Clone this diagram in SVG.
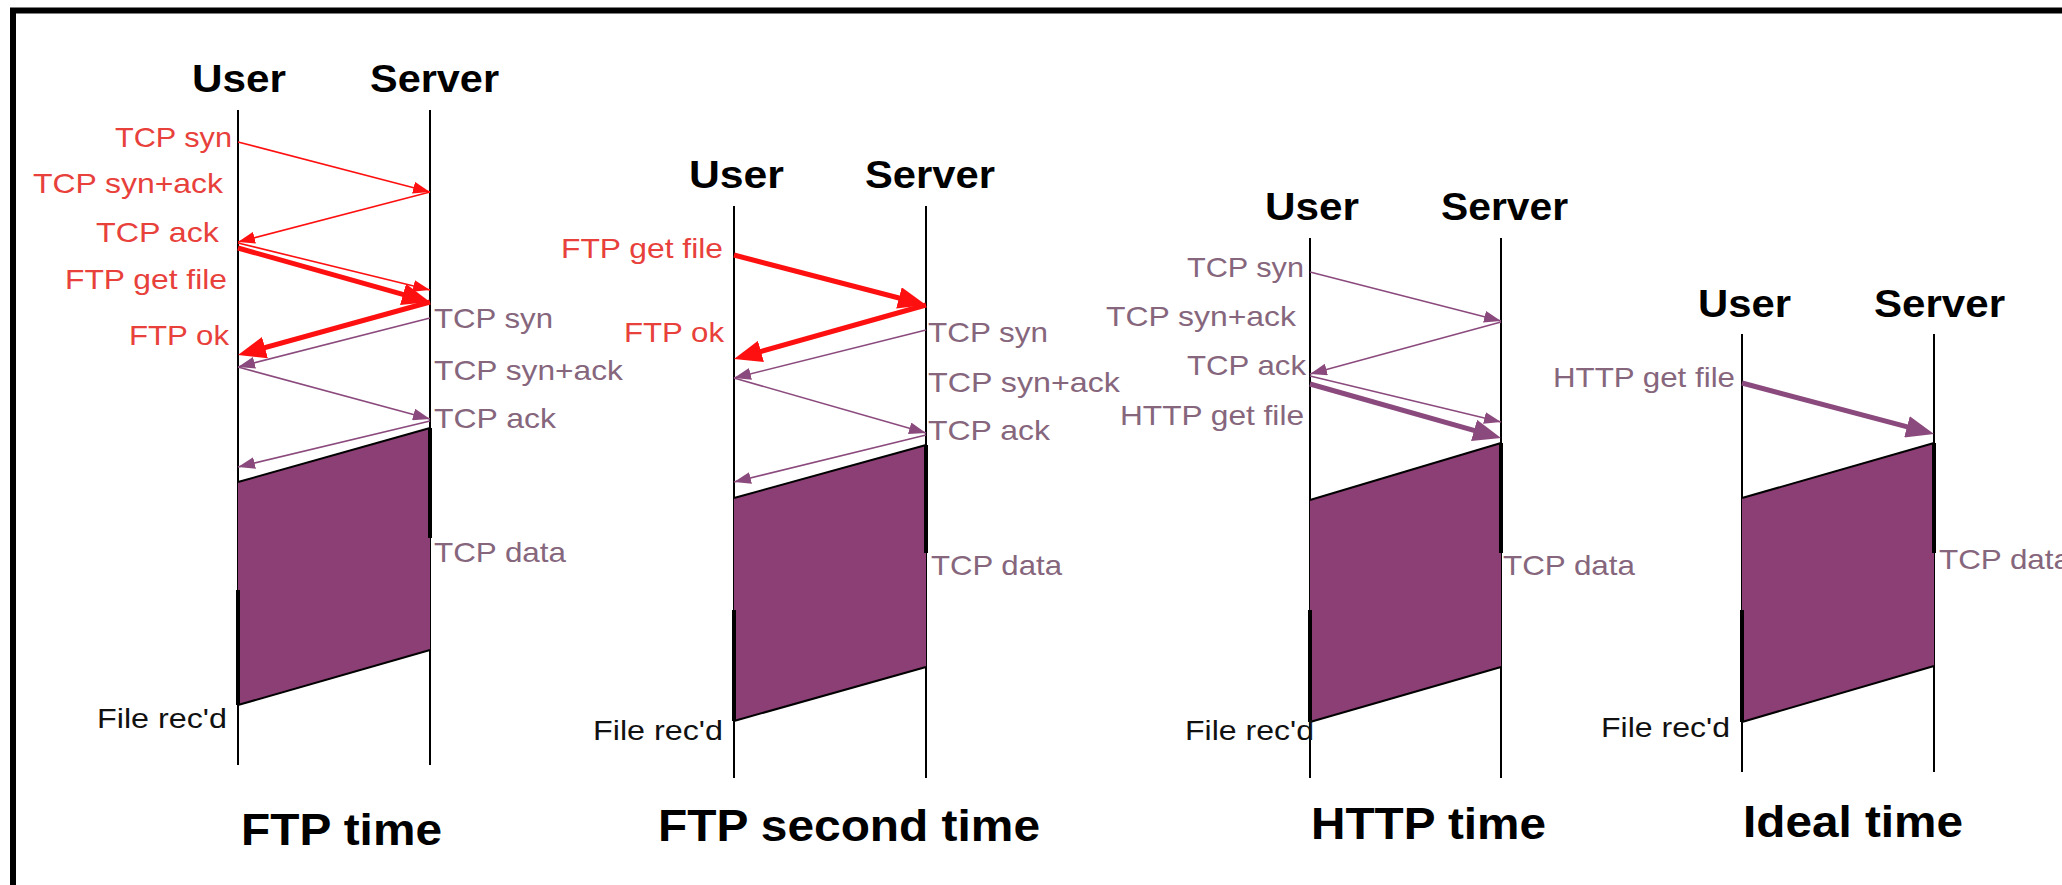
<svg xmlns="http://www.w3.org/2000/svg" width="2062" height="885" viewBox="0 0 2062 885">
  <style>
    text { font-family: "Liberation Sans", Arial, sans-serif; }
    .hdr { font-size: 39px; font-weight: bold; fill: #000; }
    .title { font-size: 44px; font-weight: bold; fill: #000; }
    .lbl { font-size: 28px; }
    .red { fill: #e8403a; }
    .pur { fill: #86667c; }
    .blk { fill: #111; }
    .life { stroke: #000; stroke-width: 2; fill: none; }
    .busy { stroke: #000; stroke-width: 4; fill: none; }
    .data { fill: #8b3f75; stroke: none; }
    .edge { stroke: #000; stroke-width: 2; fill: none; }
    .rthin { stroke: #ff1010; stroke-width: 1.6; fill: none; marker-end: url(#hRedThin); }
    .rthick { stroke: #ff1010; stroke-width: 5; fill: none; marker-end: url(#hRedThick); }
    .pthin { stroke: #8b4a7d; stroke-width: 1.6; fill: none; marker-end: url(#hPurThin); }
    .pthick { stroke: #8b4a7d; stroke-width: 5; fill: none; marker-end: url(#hPurThick); }
  </style>
  <defs>
    <marker id="hRedThin" viewBox="0 0 17 12" refX="17" refY="6" markerWidth="17" markerHeight="12" markerUnits="userSpaceOnUse" orient="auto">
      <path d="M0,0 L17,6 L0,12 z" fill="#ff1010"/>
    </marker>
    <marker id="hRedThick" viewBox="0 0 28 22" refX="20" refY="11" markerWidth="28" markerHeight="22" markerUnits="userSpaceOnUse" orient="auto">
      <path d="M0,0 L28,11 L0,22 z" fill="#ff1010"/>
    </marker>
    <marker id="hPurThin" viewBox="0 0 17 12" refX="17" refY="6" markerWidth="17" markerHeight="12" markerUnits="userSpaceOnUse" orient="auto">
      <path d="M0,0 L17,6 L0,12 z" fill="#8b4a7d"/>
    </marker>
    <marker id="hPurThick" viewBox="0 0 28 22" refX="20" refY="11" markerWidth="28" markerHeight="22" markerUnits="userSpaceOnUse" orient="auto">
      <path d="M0,0 L28,11 L0,22 z" fill="#8b4a7d"/>
    </marker>
  </defs>

  <rect x="0" y="0" width="2062" height="885" fill="#fff"/>
  <!-- frame: top and left rule -->
  <path d="M13,885 V10.5 H2062" stroke="#000" stroke-width="6" fill="none"/>

  <!-- ===== FTP time ===== -->
  <g id="ftp-time">
    <g id="ftp-user">
      <text class="hdr" x="192" y="92" textLength="94" lengthAdjust="spacingAndGlyphs">User</text>
      <line class="life" x1="238" y1="110" x2="238" y2="765"/>
    </g>
    <g id="ftp-server">
      <text class="hdr" x="370" y="92" textLength="129" lengthAdjust="spacingAndGlyphs">Server</text>
      <line class="life" x1="430" y1="110" x2="430" y2="765"/>
    </g>
    <g id="ftp-transfer">
      <polygon class="data" points="238,482 430,428 430,650 238,705"/>
      <line class="edge" x1="238" y1="482" x2="430" y2="428"/>
      <line class="edge" x1="238" y1="705" x2="430" y2="650"/>
      <line class="busy" x1="430" y1="428" x2="430" y2="538"/>
      <line class="busy" x1="238" y1="590" x2="238" y2="705"/>
    </g>
    <g id="ftp-connectors">
      <line class="rthin" x1="238" y1="142" x2="430" y2="192"/>
      <line class="rthin" x1="430" y1="192" x2="238" y2="242"/>
      <line class="rthin" x1="238" y1="243" x2="430" y2="290"/>
      <line class="rthick" x1="238" y1="248" x2="422.3" y2="299.8"/>
      <line class="rthick" x1="430" y1="302" x2="245.7" y2="352.9"/>
      <line class="pthin" x1="430" y1="318" x2="238" y2="367"/>
      <line class="pthin" x1="238" y1="367" x2="430" y2="419"/>
      <line class="pthin" x1="430" y1="421" x2="238" y2="467"/>
    </g>
    <g id="ftp-labels">
      <text class="lbl red" x="115" y="147" textLength="117" lengthAdjust="spacingAndGlyphs">TCP syn</text>
      <text class="lbl red" x="33" y="193" textLength="190" lengthAdjust="spacingAndGlyphs">TCP syn+ack</text>
      <text class="lbl red" x="96" y="242" textLength="123" lengthAdjust="spacingAndGlyphs">TCP ack</text>
      <text class="lbl red" x="65" y="289" textLength="162" lengthAdjust="spacingAndGlyphs">FTP get file</text>
      <text class="lbl red" x="129" y="345" textLength="100" lengthAdjust="spacingAndGlyphs">FTP ok</text>
      <text class="lbl pur" x="434" y="328" textLength="119" lengthAdjust="spacingAndGlyphs">TCP syn</text>
      <text class="lbl pur" x="434" y="380" textLength="189" lengthAdjust="spacingAndGlyphs">TCP syn+ack</text>
      <text class="lbl pur" x="434" y="428" textLength="122" lengthAdjust="spacingAndGlyphs">TCP ack</text>
      <text class="lbl pur" x="434" y="562" textLength="132" lengthAdjust="spacingAndGlyphs">TCP data</text>
      <text class="lbl blk" x="97" y="728" textLength="130" lengthAdjust="spacingAndGlyphs">File rec'd</text>
      <text class="title" x="241" y="845" textLength="201" lengthAdjust="spacingAndGlyphs">FTP time</text>
    </g>
  </g>

  <!-- ===== FTP second time ===== -->
  <g id="ftp-second">
    <g id="ftp2-user">
      <text class="hdr" x="689" y="188" textLength="95" lengthAdjust="spacingAndGlyphs">User</text>
      <line class="life" x1="734" y1="206" x2="734" y2="778"/>
    </g>
    <g id="ftp2-server">
      <text class="hdr" x="865" y="188" textLength="130" lengthAdjust="spacingAndGlyphs">Server</text>
      <line class="life" x1="926" y1="206" x2="926" y2="778"/>
    </g>
    <g id="ftp2-transfer">
      <polygon class="data" points="734,498 926,445 926,667 734,721"/>
      <line class="edge" x1="734" y1="498" x2="926" y2="445"/>
      <line class="edge" x1="734" y1="721" x2="926" y2="667"/>
      <line class="busy" x1="926" y1="445" x2="926" y2="553"/>
      <line class="busy" x1="734" y1="610" x2="734" y2="721"/>
    </g>
    <g id="ftp2-connectors">
      <line class="rthick" x1="734" y1="255" x2="918.3" y2="303"/>
      <line class="rthick" x1="926" y1="305" x2="741.7" y2="356.8"/>
      <line class="pthin" x1="926" y1="330" x2="734" y2="378"/>
      <line class="pthin" x1="734" y1="378" x2="926" y2="433"/>
      <line class="pthin" x1="926" y1="435" x2="734" y2="482"/>
    </g>
    <g id="ftp2-labels">
      <text class="lbl red" x="561" y="258" textLength="162" lengthAdjust="spacingAndGlyphs">FTP get file</text>
      <text class="lbl red" x="624" y="342" textLength="100" lengthAdjust="spacingAndGlyphs">FTP ok</text>
      <text class="lbl pur" x="928" y="342" textLength="120" lengthAdjust="spacingAndGlyphs">TCP syn</text>
      <text class="lbl pur" x="928" y="392" textLength="192" lengthAdjust="spacingAndGlyphs">TCP syn+ack</text>
      <text class="lbl pur" x="928" y="440" textLength="122" lengthAdjust="spacingAndGlyphs">TCP ack</text>
      <text class="lbl pur" x="931" y="575" textLength="131" lengthAdjust="spacingAndGlyphs">TCP data</text>
      <text class="lbl blk" x="593" y="740" textLength="130" lengthAdjust="spacingAndGlyphs">File rec'd</text>
      <text class="title" x="658" y="841" textLength="382" lengthAdjust="spacingAndGlyphs">FTP second time</text>
    </g>
  </g>

  <!-- ===== HTTP time ===== -->
  <g id="http-time">
    <g id="http-user">
      <text class="hdr" x="1265" y="220" textLength="94" lengthAdjust="spacingAndGlyphs">User</text>
      <line class="life" x1="1310" y1="238" x2="1310" y2="778"/>
    </g>
    <g id="http-server">
      <text class="hdr" x="1441" y="220" textLength="127" lengthAdjust="spacingAndGlyphs">Server</text>
      <line class="life" x1="1501" y1="238" x2="1501" y2="778"/>
    </g>
    <g id="http-transfer">
      <polygon class="data" points="1310,500 1501,443 1501,667 1310,722"/>
      <line class="edge" x1="1310" y1="500" x2="1501" y2="443"/>
      <line class="edge" x1="1310" y1="722" x2="1501" y2="667"/>
      <line class="busy" x1="1501" y1="443" x2="1501" y2="553"/>
      <line class="busy" x1="1310" y1="610" x2="1310" y2="722"/>
    </g>
    <g id="http-connectors">
      <line class="pthin" x1="1310" y1="272" x2="1501" y2="321"/>
      <line class="pthin" x1="1501" y1="322" x2="1310" y2="374"/>
      <line class="pthin" x1="1310" y1="376" x2="1501" y2="422"/>
      <line class="pthick" x1="1310" y1="384" x2="1493.3" y2="435.8"/>
    </g>
    <g id="http-labels">
      <text class="lbl pur" x="1187" y="277" textLength="117" lengthAdjust="spacingAndGlyphs">TCP syn</text>
      <text class="lbl pur" x="1106" y="326" textLength="190" lengthAdjust="spacingAndGlyphs">TCP syn+ack</text>
      <text class="lbl pur" x="1187" y="375" textLength="119" lengthAdjust="spacingAndGlyphs">TCP ack</text>
      <text class="lbl pur" x="1120" y="425" textLength="184" lengthAdjust="spacingAndGlyphs">HTTP get file</text>
      <text class="lbl pur" x="1503" y="575" textLength="132" lengthAdjust="spacingAndGlyphs">TCP data</text>
      <text class="lbl blk" x="1185" y="740" textLength="129" lengthAdjust="spacingAndGlyphs">File rec'd</text>
      <text class="title" x="1311" y="839" textLength="235" lengthAdjust="spacingAndGlyphs">HTTP time</text>
    </g>
  </g>

  <!-- ===== Ideal time ===== -->
  <g id="ideal-time">
    <g id="ideal-user">
      <text class="hdr" x="1698" y="317" textLength="93" lengthAdjust="spacingAndGlyphs">User</text>
      <line class="life" x1="1742" y1="334" x2="1742" y2="772"/>
    </g>
    <g id="ideal-server">
      <text class="hdr" x="1874" y="317" textLength="131" lengthAdjust="spacingAndGlyphs">Server</text>
      <line class="life" x1="1934" y1="334" x2="1934" y2="772"/>
    </g>
    <g id="ideal-transfer">
      <polygon class="data" points="1742,498 1934,443 1934,666 1742,722"/>
      <line class="edge" x1="1742" y1="498" x2="1934" y2="443"/>
      <line class="edge" x1="1742" y1="722" x2="1934" y2="666"/>
      <line class="busy" x1="1934" y1="443" x2="1934" y2="553"/>
      <line class="busy" x1="1742" y1="610" x2="1742" y2="722"/>
    </g>
    <g id="ideal-connectors">
      <line class="pthick" x1="1742" y1="383" x2="1926.3" y2="431.9"/>
    </g>
    <g id="ideal-labels">
      <text class="lbl pur" x="1553" y="387" textLength="182" lengthAdjust="spacingAndGlyphs">HTTP get file</text>
      <text class="lbl pur" x="1939" y="569" textLength="132" lengthAdjust="spacingAndGlyphs">TCP data</text>
      <text class="lbl blk" x="1601" y="737" textLength="129" lengthAdjust="spacingAndGlyphs">File rec'd</text>
      <text class="title" x="1743" y="837" textLength="220" lengthAdjust="spacingAndGlyphs">Ideal time</text>
    </g>
  </g>
</svg>
